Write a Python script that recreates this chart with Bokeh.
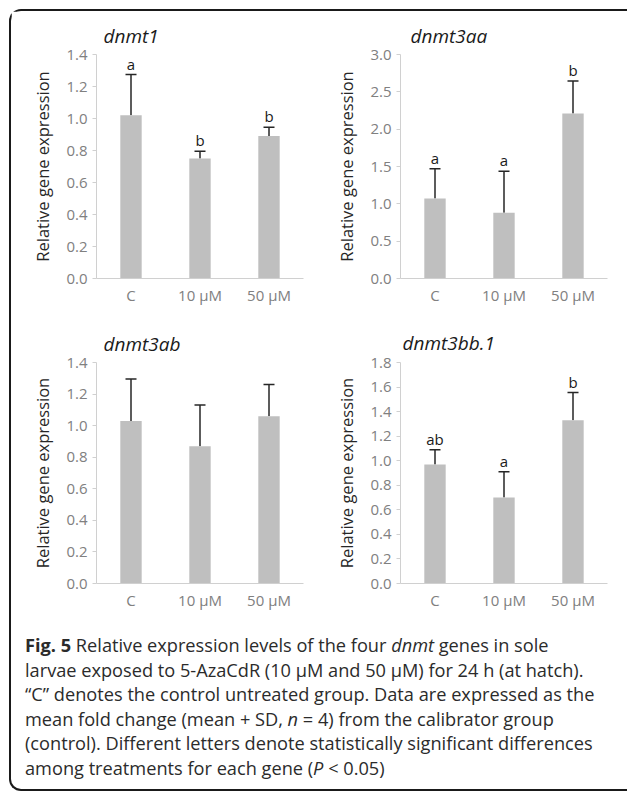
from bokeh.plotting import figure
from bokeh.models import (ColumnDataSource, FactorRange, Range1d, FixedTicker,
                          PrintfTickFormatter, Whisker, TeeHead, Div)
from bokeh.layouts import row, column
from bokeh.embed import file_html
from bokeh.resources import INLINE
from bokeh.core.properties import value

# ---------------- data ----------------
groups = ["C", "10 µM", "50 µM"]

dnmt1_mean = [1.02, 0.75, 0.89]
dnmt1_sd = [0.255, 0.045, 0.055]
dnmt1_letters = ["a", "b", "b"]
dnmt1_ticks = [0.0, 0.2, 0.4, 0.6, 0.8, 1.0, 1.2, 1.4]

dnmt3aa_mean = [1.07, 0.88, 2.21]
dnmt3aa_sd = [0.40, 0.555, 0.435]
dnmt3aa_letters = ["a", "a", "b"]
dnmt3aa_ticks = [0.0, 0.5, 1.0, 1.5, 2.0, 2.5, 3.0]

dnmt3ab_mean = [1.03, 0.87, 1.06]
dnmt3ab_sd = [0.265, 0.26, 0.20]
dnmt3ab_letters = ["", "", ""]
dnmt3ab_ticks = [0.0, 0.2, 0.4, 0.6, 0.8, 1.0, 1.2, 1.4]

dnmt3bb1_mean = [0.97, 0.70, 1.33]
dnmt3bb1_sd = [0.12, 0.21, 0.225]
dnmt3bb1_letters = ["ab", "a", "b"]
dnmt3bb1_ticks = [0.0, 0.2, 0.4, 0.6, 0.8, 1.0, 1.2, 1.4, 1.6, 1.8]

FONT = "Open Sans"
BAR = "#bfbfbf"
AXIS = "#d0d0d0"
TICKLAB = "#808080"


def make(name, mean, sd, letters, ticks, w, h, bl, br, bt, bb, toff, tstand):
    upper = [m + s for m, s in zip(mean, sd)]
    src = ColumnDataSource(dict(x=groups, mean=mean, upper=upper, lab=letters))
    p = figure(x_range=FactorRange(*groups), y_range=Range1d(ticks[0], ticks[-1]),
               width=w, height=h, min_border_left=bl, min_border_right=br,
               min_border_top=bt, min_border_bottom=bb,
               output_backend="svg", toolbar_location=None)
    p.outline_line_color = None
    p.xgrid.grid_line_color = None
    p.ygrid.grid_line_color = None
    p.background_fill_color = "white"
    p.border_fill_color = "white"

    p.title.text = name
    p.title.align = "left"
    p.title.offset = toff
    p.title.standoff = tstand
    p.title.text_font = FONT
    p.title.text_font_style = "italic"
    p.title.text_font_size = "19px"
    p.title.text_color = "#1a1a1a"

    p.vbar(x="x", top="mean", width=0.31, source=src, fill_color=BAR, line_color=None)
    wh = Whisker(base="x", upper="upper", lower="mean", source=src,
                 line_color="#262626", line_width=1.5, lower_head=None,
                 upper_head=TeeHead(size=11, line_color="#262626", line_width=1.5))
    p.add_layout(wh)
    p.text(x="x", y="upper", text="lab", source=src, text_align="center",
           text_baseline="bottom", y_offset=-1, text_font=value(FONT),
           text_font_size="15px", text_color="#1a1a1a")

    ya = p.yaxis[0]
    ya.ticker = FixedTicker(ticks=ticks)
    ya.formatter = PrintfTickFormatter(format="%.1f")
    ya.axis_line_color = AXIS
    ya.major_tick_line_color = AXIS
    ya.major_tick_out = 4
    ya.major_tick_in = 0
    ya.minor_tick_line_color = None
    ya.major_label_text_color = TICKLAB
    ya.major_label_text_font = FONT
    ya.major_label_text_font_size = "15px"
    ya.major_label_standoff = 5
    ya.axis_label = "Relative gene expression"
    ya.axis_label_text_font = FONT
    ya.axis_label_text_font_size = "16.5px"
    ya.axis_label_text_font_style = "normal"
    ya.axis_label_text_color = "#262626"
    ya.axis_label_standoff = 9

    xa = p.xaxis[0]
    xa.axis_line_color = AXIS
    xa.major_tick_line_color = None
    xa.major_tick_out = 0
    xa.major_tick_in = 0
    xa.minor_tick_line_color = None
    xa.major_label_text_color = TICKLAB
    xa.major_label_text_font = FONT
    xa.major_label_text_font_size = "15px"
    xa.major_label_standoff = 6
    return p


p1 = make("dnmt1", dnmt1_mean, dnmt1_sd, dnmt1_letters, dnmt1_ticks,
          305, 304, 85, 13, 43, 37, 7, 12)
p2 = make("dnmt3aa", dnmt3aa_mean, dnmt3aa_sd, dnmt3aa_letters, dnmt3aa_ticks,
          304, 304, 84, 13, 43, 37, 10, 12)
p3 = make("dnmt3ab", dnmt3ab_mean, dnmt3ab_sd, dnmt3ab_letters, dnmt3ab_ticks,
          305, 318, 85, 13, 47, 48, 7, 11)
p4 = make("dnmt3bb.1", dnmt3bb1_mean, dnmt3bb1_sd, dnmt3bb1_letters, dnmt3bb1_ticks,
          304, 318, 84, 13, 44, 50, 2, 14)

caption_html = (
    "<b>Fig. 5</b> Relative expression levels of the four <i>dnmt</i> genes in sole<br>"
    "larvae exposed to 5-AzaCdR (10 µM and 50 µM) for 24 h (at hatch).<br>"
    "“C” denotes the control untreated group. Data are expressed as the<br>"
    "mean fold change (mean + SD, <i>n</i> = 4) from the calibrator group<br>"
    "(control). Different letters denote statistically significant differences<br>"
    "among treatments for each gene (<i>P</i> &lt; 0.05)"
)
cap = Div(text=caption_html, width=616, height=156, margin=0,
          styles={"font-family": "Open Sans", "font-size": "18.2px",
                  "line-height": "24.6px", "color": "#2b2b2b",
                  "padding-left": "14px", "box-sizing": "border-box",
                  "white-space": "nowrap", "overflow": "hidden"})

r1 = row(p1, p2, spacing=0, margin=0)
r2 = row(p3, p4, spacing=0, margin=0)
layout = column(r1, r2, cap, spacing=0, width=618, height=782, margin=(9, 0, 0, 9),
                styles={"border-left": "2.5px solid #1a1a1a",
                        "border-top": "2.5px solid #1a1a1a",
                        "border-bottom": "2.5px solid #1a1a1a",
                        "border-top-left-radius": "12px",
                        "border-bottom-left-radius": "12px",
                        "box-sizing": "border-box",
                        "background": "white"})

open("out.html", "w").write(file_html(layout, INLINE))
